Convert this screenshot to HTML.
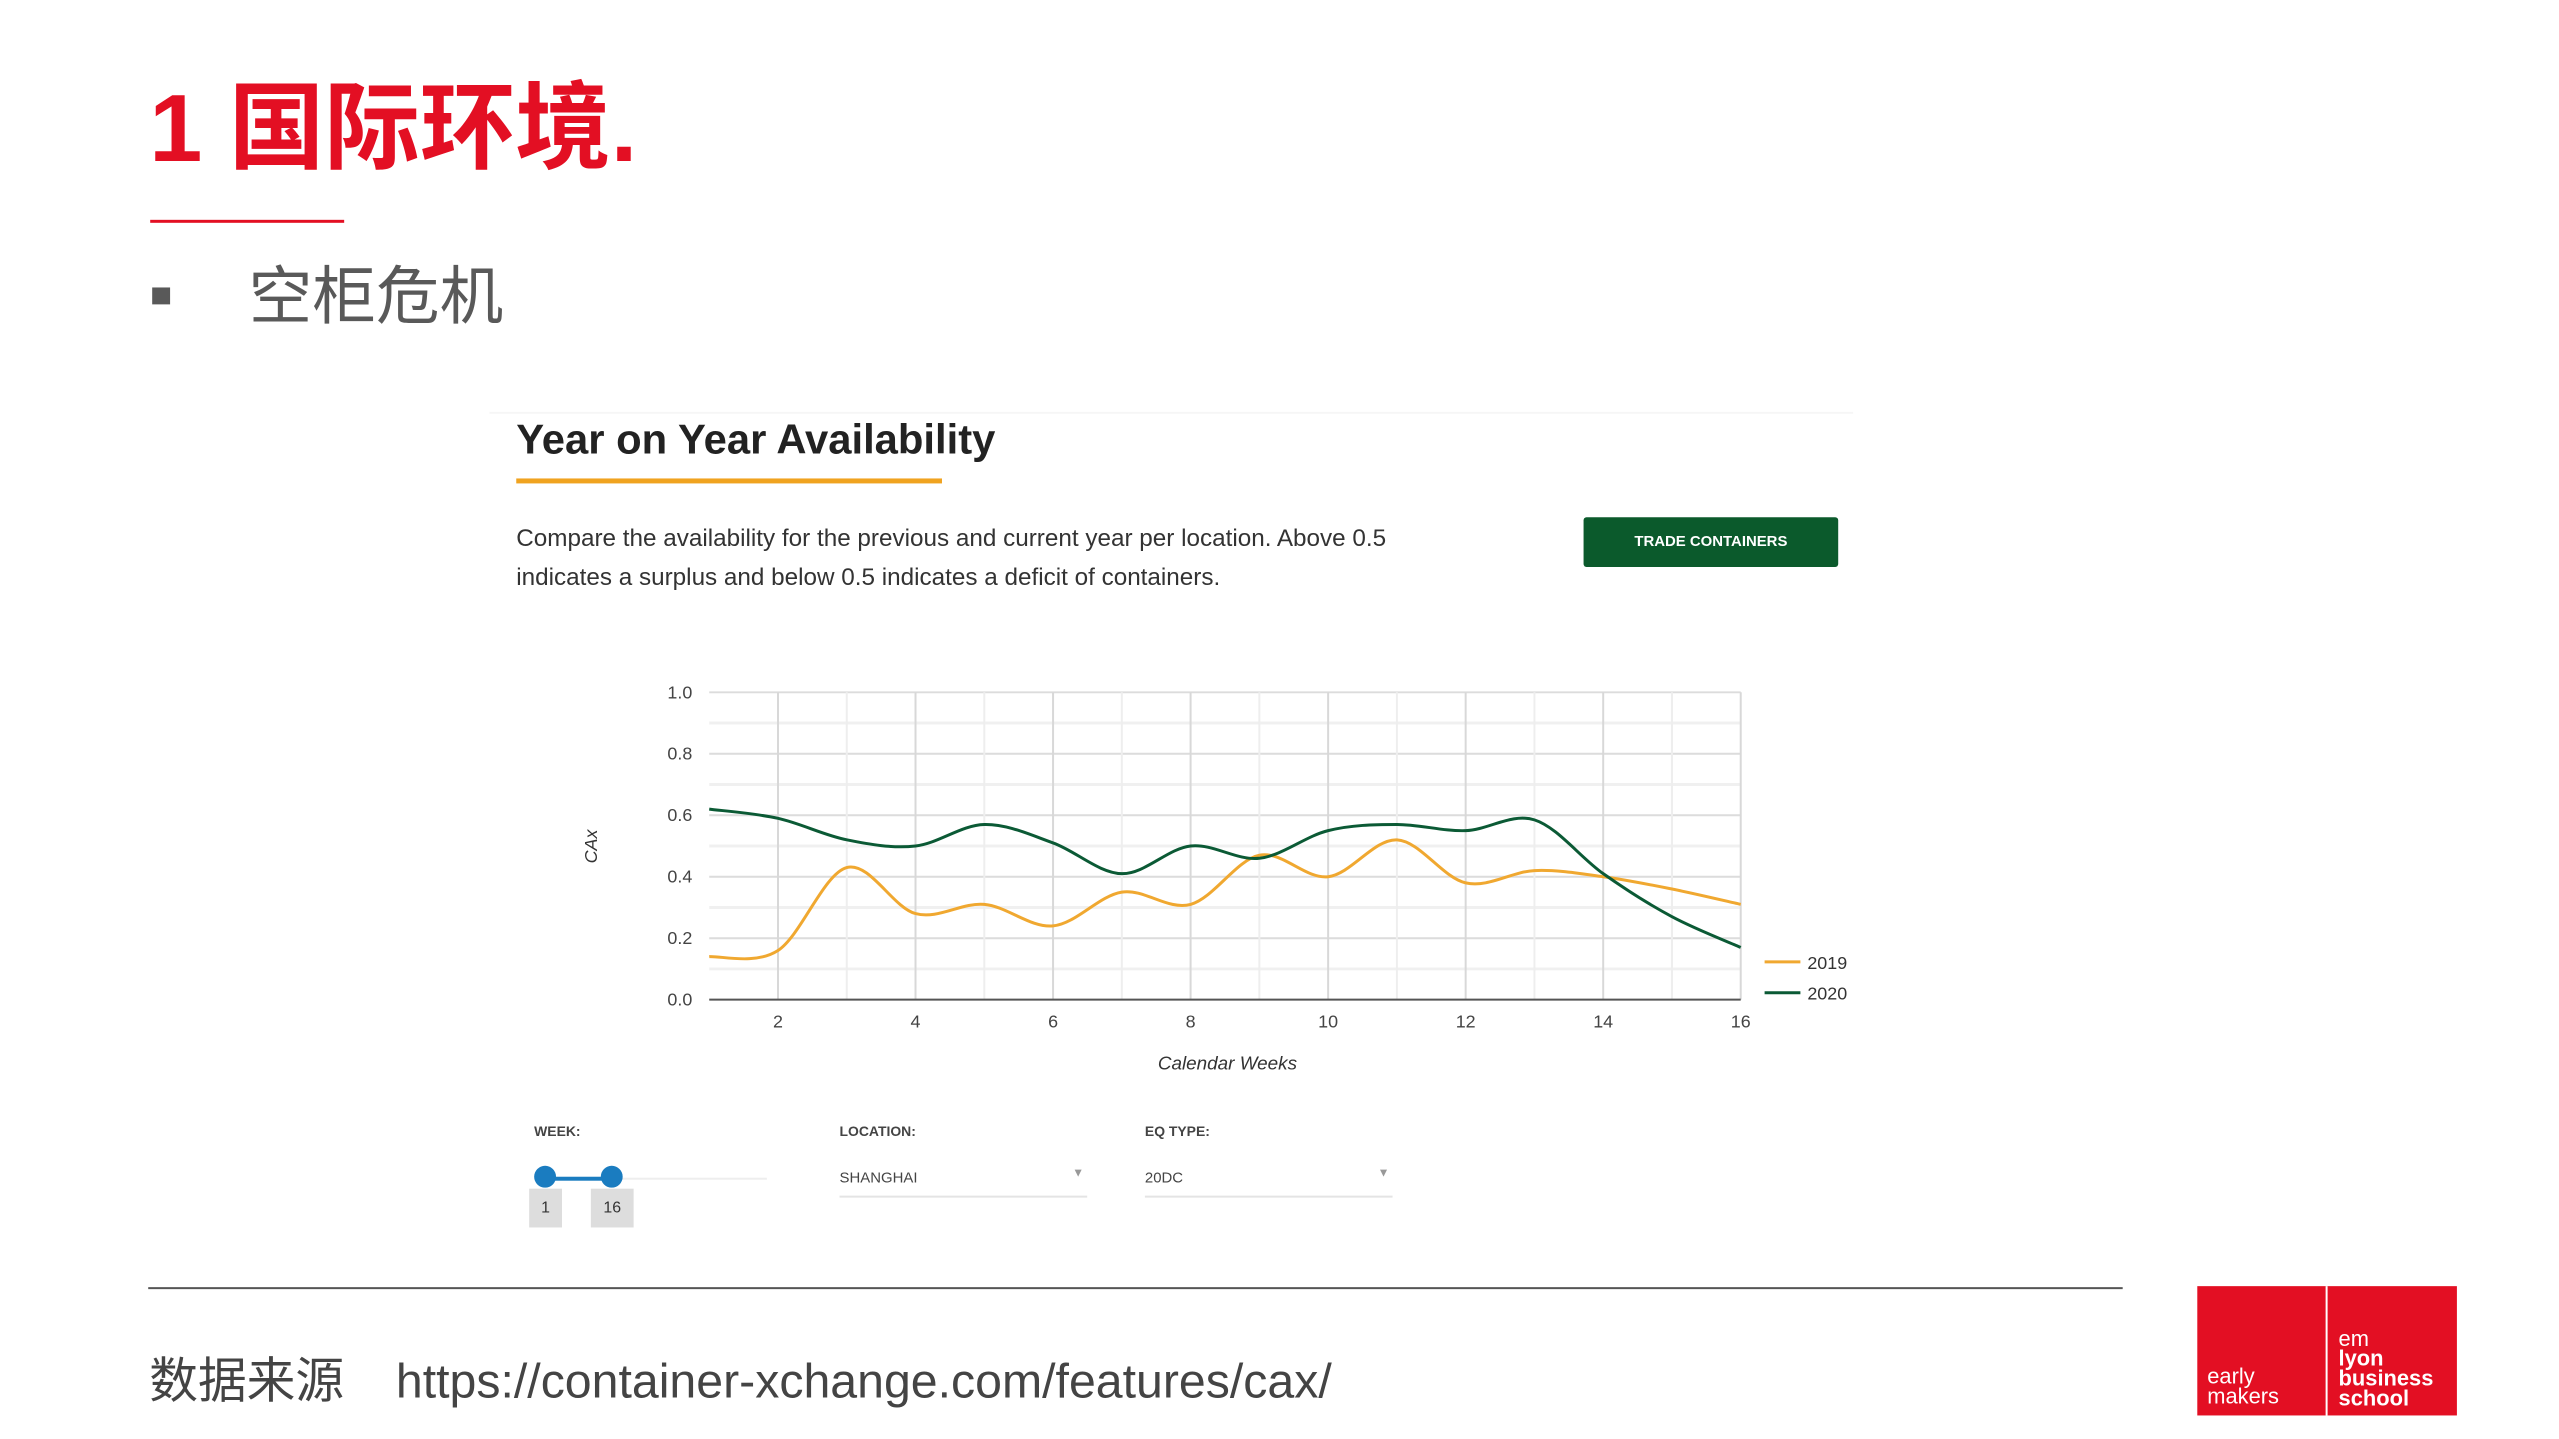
<!DOCTYPE html>
<html><head><meta charset="utf-8"><style>
body{margin:0;width:2559px;height:1439px;background:#fff;position:relative;overflow:hidden;font-family:"Liberation Sans","Noto Sans CJK SC",sans-serif}
#w{position:absolute;left:0;top:0;width:2559px;height:1439px;transform:scale(0.9947);transform-origin:0 0}
.a{position:absolute;white-space:nowrap}
</style></head><body><div id="w">
<div class="a" style="left:150px;top:70px;font-size:96px;font-weight:bold;color:#e30f23;line-height:120px">1 国际环境.</div>
<div class="a" style="left:151px;top:221px;width:195px;height:3px;background:#e30f23"></div>
<div class="a" style="left:153px;top:289px;width:18px;height:17px;background:#595959"></div>
<div class="a" style="left:250px;top:258px;font-size:64px;color:#595959;line-height:80px">空柜危机</div>

<div class="a" style="left:492px;top:414px;width:1371px;height:2px;background:#f6f6f6"></div>
<div class="a" style="left:519px;top:412px;font-size:42px;font-weight:bold;color:#222;line-height:60px">Year on Year Availability</div>
<div class="a" style="left:519px;top:481px;width:428px;height:5px;background:#f0a320"></div>
<div class="a" style="left:519px;top:522px;font-size:24.4px;color:#333;line-height:39px">Compare the availability for the previous and current year per location. Above 0.5<br>indicates a surplus and below 0.5 indicates a deficit of containers.</div>
<div class="a" style="left:1592px;top:520px;width:256px;height:50px;background:#0b5a2c;border-radius:3px;color:#fff;font-size:15px;font-weight:bold;line-height:50px;text-align:center">TRADE CONTAINERS</div>

<svg class="a" style="left:3px;top:2px" width="2559" height="1439" id="s"></svg>

<div class="a" style="left:537px;top:1129px;font-size:14px;font-weight:bold;color:#444">WEEK:</div>
<div class="a" style="left:844px;top:1129px;font-size:14px;font-weight:bold;color:#444">LOCATION:</div>
<div class="a" style="left:1151px;top:1129px;font-size:14px;font-weight:bold;color:#444">EQ TYPE:</div>
<div class="a" style="left:548px;top:1184px;width:223px;height:2px;background:#eee"></div>
<div class="a" style="left:548px;top:1183px;width:67px;height:4px;background:#1a7cc0"></div>
<div class="a" style="left:537px;top:1172px;width:22px;height:22px;border-radius:50%;background:#1a7cc0"></div>
<div class="a" style="left:604px;top:1172px;width:22px;height:22px;border-radius:50%;background:#1a7cc0"></div>
<div class="a" style="left:532px;top:1195px;width:33px;height:39px;background:#ddd;font-size:16px;line-height:39px;text-align:center;color:#333">1</div>
<div class="a" style="left:594px;top:1195px;width:43px;height:39px;background:#ddd;font-size:16px;line-height:39px;text-align:center;color:#333">16</div>
<div class="a" style="left:844px;top:1176px;font-size:15px;color:#444">SHANGHAI</div>
<div class="a" style="left:1078px;top:1172px;font-size:12px;color:#999">▼</div>
<div class="a" style="left:844px;top:1202px;width:249px;height:2px;background:#e4e4e4"></div>
<div class="a" style="left:1151px;top:1176px;font-size:15px;color:#444">20DC</div>
<div class="a" style="left:1385px;top:1172px;font-size:12px;color:#999">▼</div>
<div class="a" style="left:1151px;top:1202px;width:249px;height:2px;background:#e4e4e4"></div>

<div class="a" style="left:149px;top:1294px;width:1985px;height:2px;background:#555"></div>
<div class="a" style="left:150px;top:1358px;font-size:49px;color:#444;line-height:62px">数据来源</div>
<div class="a" style="left:398px;top:1358px;font-size:48.5px;color:#444;line-height:62px">https://container-xchange.com/features/cax/</div>

<div class="a" style="left:2209px;top:1293px;width:261px;height:130px;background:#e30f23"></div>
<div class="a" style="left:2338px;top:1293px;width:2px;height:130px;background:#fff"></div>
<div class="a" style="left:2219px;top:1374px;font-size:22px;color:#fff;line-height:20px">early<br>makers</div>
<div class="a" style="left:2351px;top:1336px;font-size:22px;color:#fff;line-height:20px">em<br><b>lyon<br>business<br>school</b></div>
</div>
<script>
var s=document.getElementById('s'),h='';
var L=710,R=1747,T=694,B=1003;
function X(w){return L+(w-1)*(R-L)/15}
function Y(v){return B-v*(B-T)}
for(var i=1;i<=10;i++){h+='<line x1="'+L+'" x2="'+R+'" y1="'+Y(i/10)+'" y2="'+Y(i/10)+'" stroke="'+(i%2?'#f0f0f0':'#dcdcdc')+'" stroke-width="'+(i%2?3:2)+'"/>';}
for(var w=2;w<=16;w++){h+='<line x1="'+X(w)+'" x2="'+X(w)+'" y1="'+T+'" y2="'+B+'" stroke="'+(w%2?'#eeeeee':'#d8d8d8')+'" stroke-width="2"/>';}
h+='<line x1="'+L+'" x2="'+R+'" y1="'+B+'" y2="'+B+'" stroke="#555" stroke-width="2"/>';
for(var i=0;i<=5;i++){h+='<text x="693" y="'+(Y(i/5)+6)+'" font-size="18" fill="#444" text-anchor="end" font-family="Liberation Sans">'+(i/5).toFixed(1)+'</text>';}
for(var w=2;w<=16;w+=2){h+='<text x="'+X(w)+'" y="1031" font-size="18" fill="#444" text-anchor="middle" font-family="Liberation Sans">'+w+'</text>';}
h+='<text x="1231" y="1073" font-size="19" font-style="italic" fill="#333" text-anchor="middle" font-family="Liberation Sans">Calendar Weeks</text>';
h+='<text transform="translate(597,849) rotate(-90)" font-size="18" font-style="italic" fill="#333" text-anchor="middle" font-family="Liberation Sans">CAx</text>';
function path(d){var p=d.map(function(v,i){return [X(i+1),Y(v)]});var r='M'+p[0][0]+','+p[0][1];
for(var i=0;i<p.length-1;i++){var p0=p[i-1]||p[i],p1=p[i],p2=p[i+1],p3=p[i+2]||p2;
r+=' C'+(p1[0]+(p2[0]-p0[0])/6)+','+(p1[1]+(p2[1]-p0[1])/6)+' '+(p2[0]-(p3[0]-p1[0])/6)+','+(p2[1]-(p3[1]-p1[1])/6)+' '+p2[0]+','+p2[1];}return r}
var a=[0.14,0.16,0.43,0.28,0.31,0.24,0.35,0.31,0.47,0.40,0.52,0.38,0.42,0.40,0.36,0.31];
var b=[0.62,0.59,0.52,0.50,0.57,0.51,0.41,0.50,0.46,0.55,0.57,0.55,0.585,0.41,0.27,0.17];
h+='<path d="'+path(a)+'" fill="none" stroke="#f0a830" stroke-width="3"/>';
h+='<path d="'+path(b)+'" fill="none" stroke="#0b5a35" stroke-width="3"/>';
h+='<line x1="1771" x2="1807" y1="965" y2="965" stroke="#f0a830" stroke-width="3"/><text x="1814" y="972" font-size="18" fill="#333" font-family="Liberation Sans">2019</text>';
h+='<line x1="1771" x2="1807" y1="996" y2="996" stroke="#0b5a35" stroke-width="3"/><text x="1814" y="1003" font-size="18" fill="#333" font-family="Liberation Sans">2020</text>';
s.innerHTML=h;
</script>
</body></html>
